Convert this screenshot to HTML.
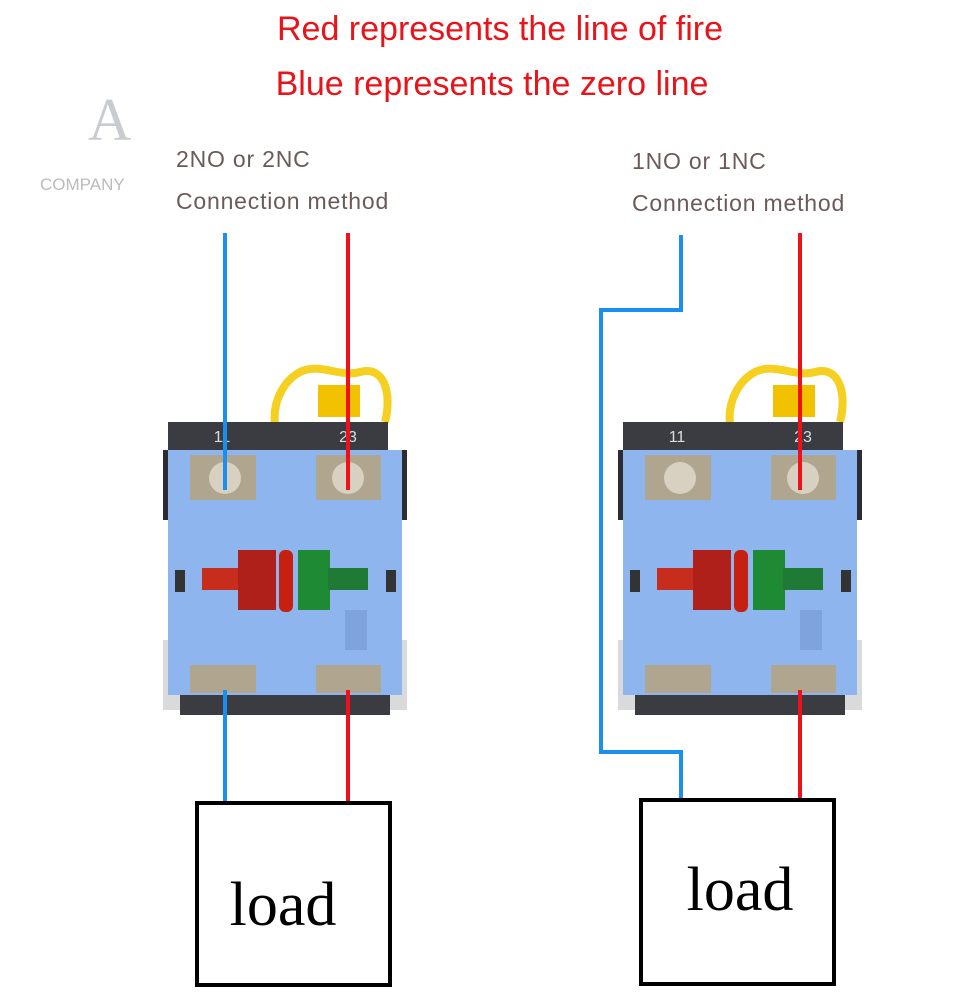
<!DOCTYPE html>
<html><head><style>
body{margin:0;width:980px;height:1000px;background:#fff;overflow:hidden;font-family:"Liberation Sans",sans-serif}
</style></head><body>
<svg width="980" height="1000" xmlns="http://www.w3.org/2000/svg">
<defs>
<g id="sw">
  <path d="M275 425 C272 400 285 380 300 372 C320 362 340 378 360 372 C385 365 392 395 385 422" fill="none" stroke="#f5d020" stroke-width="8"/>
  <rect x="318" y="385" width="42" height="32" fill="#f2c200"/>
  <rect x="168" y="422" width="220" height="30" fill="#3a3c42"/>
  <text x="222" y="442" font-size="16" fill="#ddd" text-anchor="middle">11</text>
  <text x="348" y="442" font-size="16" fill="#ddd" text-anchor="middle">23</text>
  <rect x="163" y="450" width="20" height="70" fill="#2b2d33"/>
  <rect x="387" y="450" width="20" height="70" fill="#2b2d33"/>
  <rect x="163" y="640" width="20" height="70" fill="#d8dadc"/>
  <rect x="387" y="640" width="20" height="70" fill="#d8dadc"/>
  <rect x="180" y="690" width="210" height="25" fill="#3a3c42"/>
  <rect x="168" y="450" width="234" height="245" fill="#8fb5ef"/>
  <rect x="190" y="455" width="66" height="45" fill="#b0a690"/>
  <rect x="315" y="455" width="66" height="45" fill="#b0a690"/>
  <circle cx="225" cy="478" r="16" fill="#d8d0c0"/>
  <circle cx="348" cy="478" r="16" fill="#d8d0c0"/>
  <rect x="190" y="665" width="66" height="28" fill="#b0a690"/>
  <rect x="315" y="665" width="66" height="28" fill="#b0a690"/>
  <rect x="256" y="450" width="60" height="245" fill="#8fb5ef"/>
  <rect x="202" y="568" width="40" height="22" fill="#c62d1c"/>
  <rect x="238" y="550" width="38" height="60" fill="#b0201a"/>
  <rect x="279" y="550" width="14" height="62" rx="6" fill="#c62010"/>
  <rect x="298" y="550" width="32" height="60" fill="#1e8a34"/>
  <rect x="328" y="568" width="40" height="22" fill="#1e7a34"/>
  <rect x="175" y="570" width="10" height="22" fill="#333"/>
  <rect x="386" y="570" width="10" height="22" fill="#333"/>
  <rect x="345" y="610" width="22" height="40" fill="#7fa4dd"/>
</g>
</defs>
<text x="500" y="40" font-size="34" fill="#e8141a" text-anchor="middle">Red represents the line of fire</text>
<text x="492" y="95" font-size="34" fill="#e8141a" text-anchor="middle">Blue represents the zero line</text>
<text x="88" y="140" font-size="60" fill="#c8cbd0" font-family="Liberation Serif">A</text>
<text x="40" y="190" font-size="17" fill="#bbb">COMPANY</text>
<g font-size="23" fill="#6b5a58" letter-spacing="0.8">
<text x="176" y="167">2NO or 2NC</text>
<text x="176" y="209">Connection method</text>
<text x="632" y="169">1NO or 1NC</text>
<text x="632" y="211">Connection method</text>
</g>
<use href="#sw"/>
<use href="#sw" transform="translate(455,0)"/>
<g stroke-width="4" fill="none">
<path d="M225 233V490M225 690V803" stroke="#1a8ff0"/>
<path d="M348 233V490M348 690V803" stroke="#f0101a"/>
<path d="M681 235V310H601V752H681V800" stroke="#1a8ff0"/>
<path d="M800 233V490M800 690V800" stroke="#f0101a"/>
</g>
<rect x="197" y="803" width="193" height="182" fill="none" stroke="#000" stroke-width="4"/>
<rect x="641" y="800" width="193" height="184" fill="none" stroke="#000" stroke-width="4"/>
<text x="283" y="925" font-size="62" font-family="Liberation Serif" text-anchor="middle">load</text>
<text x="740" y="910" font-size="62" font-family="Liberation Serif" text-anchor="middle">load</text>
</svg>
</body></html>
